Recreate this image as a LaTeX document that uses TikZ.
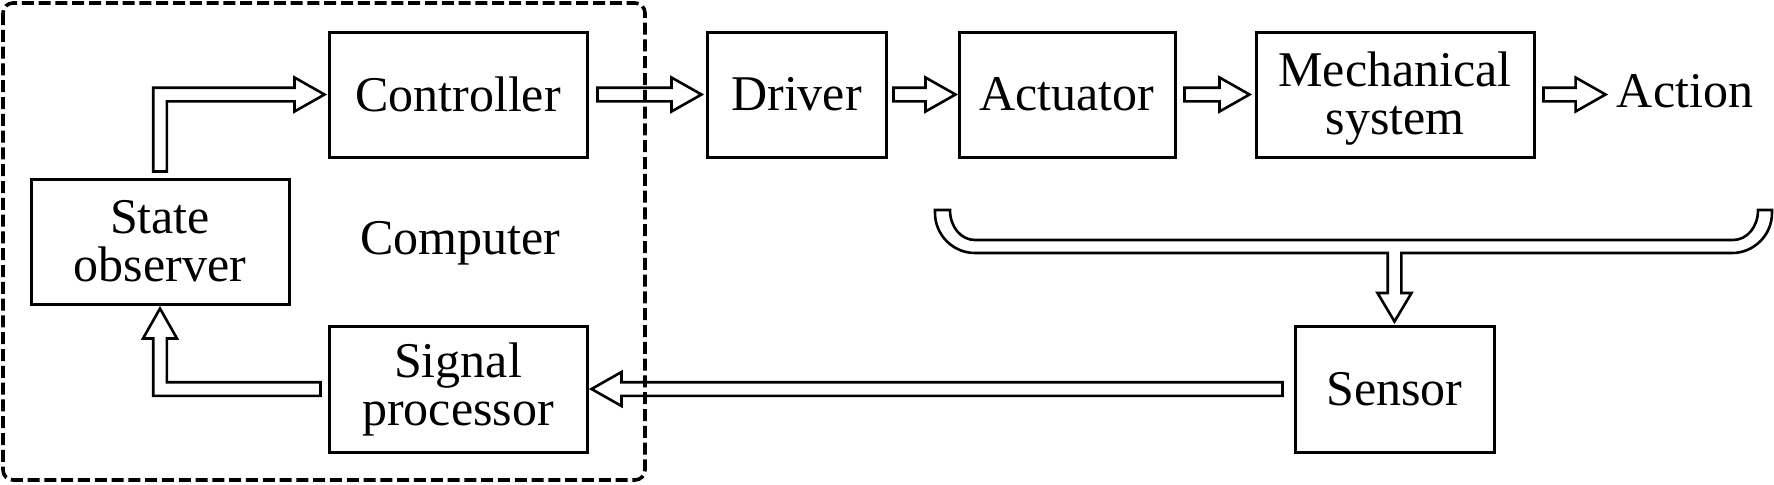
\documentclass[tikz,border=0pt]{standalone}
\usepackage{fontspec}
\setmainfont{Liberation Serif}
\usetikzlibrary{calc}

% hollow arrow from a start point to a tip on the same height
\newcommand\harrow[2]{%
  \draw[flow] let \p1=(#1), \p2=(#2), \n1={ifthenelse(\x2>\x1,1,-1)} in
    (\x1,\y1+3.4pt) -- (\x2-\n1*15pt,\y1+3.4pt) -- (\x2-\n1*15pt,\y1+8.5pt) -- (\x2,\y1)
    -- (\x2-\n1*15pt,\y1-8.5pt) -- (\x2-\n1*15pt,\y1-3.4pt) -- (\x1,\y1-3.4pt) -- cycle;}

\begin{document}
\begin{tikzpicture}[x=0.5pt, y=-0.5pt,
  every node/.style={font=\fontsize{25}{24}\selectfont},
  blk/.style={draw, line width=1.5pt, minimum height=62.5pt, inner sep=0pt, align=center},
  flow/.style={draw, line width=1.3pt, fill=white},
  comp/.style={draw, line width=1.8pt, dash pattern=on 6pt off 2.4pt, rounded corners=5pt}]
  \useasboundingbox (0,0) rectangle (1774,484);
  % blocks
  \node[blk, minimum width=129pt] (ctrl) at (458,94.5) {Controller};
  \node[blk, minimum width=129pt] (obs) at (160,241.5) {State\\observer};
  \node[blk, minimum width=129pt, minimum height=63pt] (sig) at (458,389) {Signal\\processor};
  \node[blk, minimum width=89.5pt] (drv) at (796.5,94.5) {Driver};
  \node[blk, minimum width=108pt] (act) at (1067,94.5) {Actuator};
  \node[blk, minimum width=139pt, text depth=1.5pt] (mech) at (1395,94.5) {Mechanical\\system};
  \node[blk, minimum width=99.5pt, minimum height=63pt] (sen) at (1394.5,389) {Sensor};
  \node[inner sep=0pt] (out) at (1685,91) {Action};
  \node (cpu) at (460,243) {Computer};
  % forward path
  \harrow{$(ctrl.east)+(9,0)$}{$(drv.west)+(-4,0)$}
  \harrow{$(drv.east)+(6,0)$}{$(act.west)+(-2,0)$}
  \harrow{$(act.east)+(8,0)$}{$(mech.west)+(-5,0)$}
  \harrow{$(mech.east)+(8,0)$}{$(out.west)+(-11,0)$}
  % feedback
  \harrow{$(sen.west)+(-11,0)$}{$(sig.east)+(3,0)$}
  \draw[flow] let \p1=($(sen.north)+(0,-3)$), \p2=(0,253), \p3=(0,293) in
    (935,210) -- (935,213) .. controls (935,235) and (953,253) .. (975,253) -- (\x1-3.4pt,\y2)
    -- (\x1-3.4pt,\y3) -- (\x1-8.5pt,\y3) -- (\p1) -- (\x1+8.5pt,\y3) -- (\x1+3.4pt,\y3)
    -- (\x1+3.4pt,\y2) -- (1732,253) .. controls (1754,253) and (1772,235) .. (1772,213)
    -- (1772,210) -- (1758,210) .. controls (1758,227) and (1747,240) .. (1733,240)
    -- (975,240) .. controls (961,240) and (950,227) .. (950,210) -- cycle;
  \draw[flow] let \p1=($(obs.north)+(0,-6)$), \p2=($(ctrl.west)+(-3,0)$) in
    (\x1-3.4pt,\y1) -- (\x1-3.4pt,\y2+3.4pt) -- (\x2-15pt,\y2+3.4pt) -- (\x2-15pt,\y2+8.5pt)
    -- (\p2) -- (\x2-15pt,\y2-8.5pt) -- (\x2-15pt,\y2-3.4pt) -- (\x1+3.4pt,\y2-3.4pt)
    -- (\x1+3.4pt,\y1) -- cycle;
  \draw[flow] let \p1=($(sig.west)+(-7,0)$), \p2=($(obs.south)+(0,3)$) in
    (\x1,\y1+3.4pt) -- (\x2+3.4pt,\y1+3.4pt) -- (\x2+3.4pt,\y2-15pt) -- (\x2+8.5pt,\y2-15pt)
    -- (\p2) -- (\x2-8.5pt,\y2-15pt) -- (\x2-3.4pt,\y2-15pt) -- (\x2-3.4pt,\y1-3.4pt)
    -- (\x1,\y1-3.4pt) -- cycle;
  % computer border
  \draw[comp] (3,3) rectangle (645,480);
\end{tikzpicture}
\end{document}
